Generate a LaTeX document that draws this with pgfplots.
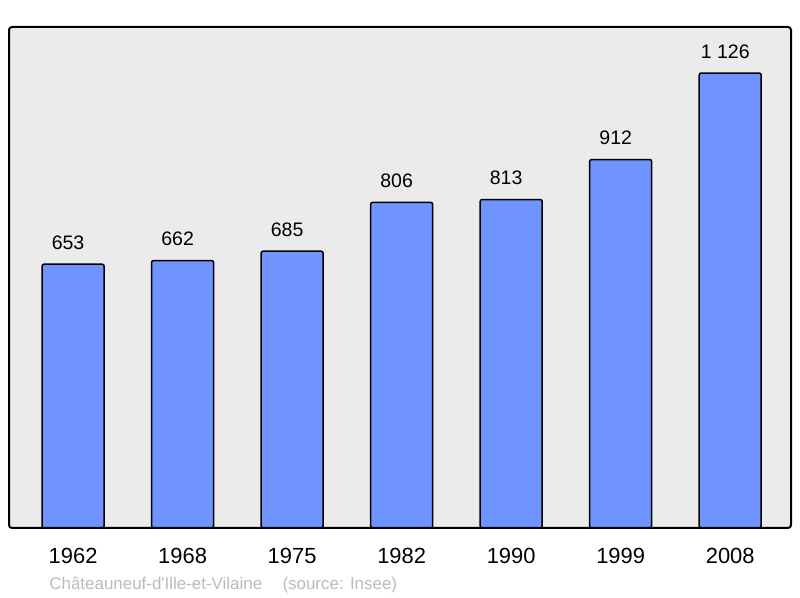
\documentclass[border=0pt]{standalone}
\usepackage{fontspec}
\setmainfont{Liberation Sans}
\newfontfamily\plainsans{Liberation Sans}
\usepackage{pgfplots}
\pgfplotsset{compat=1.18}

\definecolor{barblue}{HTML}{7094FF}
\definecolor{panel}{HTML}{EBEBEB}
\definecolor{srcgray}{HTML}{BBBBBB}

\begin{document}
\begin{tikzpicture}
\useasboundingbox (0,0) rectangle (400bp,299bp);
\begin{axis}[
    at={(4.5bp,35bp)}, anchor=south west,
    scale only axis,
    width=391bp, height=250.5bp,
    xmin=-0.585, xmax=6.555,
    ymin=0, ymax=1240,
    axis line style={draw=none},
    axis background/.style={fill=panel, rounded corners=1.5bp},
    xtick={0,...,6},
    xticklabels={1962,1968,1975,1982,1990,1999,2008},
    x tick label style={anchor=base, yshift=-17.8bp, font=\fontsize{11}{13}\selectfont},
    major tick length=0pt,
    ytick=\empty,
    clip=false,
    /pgf/number format/assume math mode=true,
    /pgf/number format/1000 sep={\ },
]
\addplot[ybar, bar width=31bp, fill=barblue, draw=black, line width=0.75bp,
    rounded corners=1bp,
    nodes near coords,
    nodes near coords style={anchor=base, yshift=7.3bp, xshift=-2.5bp, font=\fontsize{9.8}{12}\selectfont, black}]
    coordinates {(0,653) (1,662) (2,685) (3,806) (4,813) (5,912) (6,1126)};
\draw[black, line width=1bp, rounded corners=1.5bp] (rel axis cs:0,0) rectangle (rel axis cs:1,1);
\end{axis}
\node[anchor=base west, inner sep=0pt, text=srcgray, font=\plainsans\fontsize{8.5}{10}\selectfont]
    at (24.5bp,4.5bp) {Châteauneuf-d'Ille-et-Vilaine\hspace{1.2em}(source: Insee)};
\end{tikzpicture}
\end{document}
